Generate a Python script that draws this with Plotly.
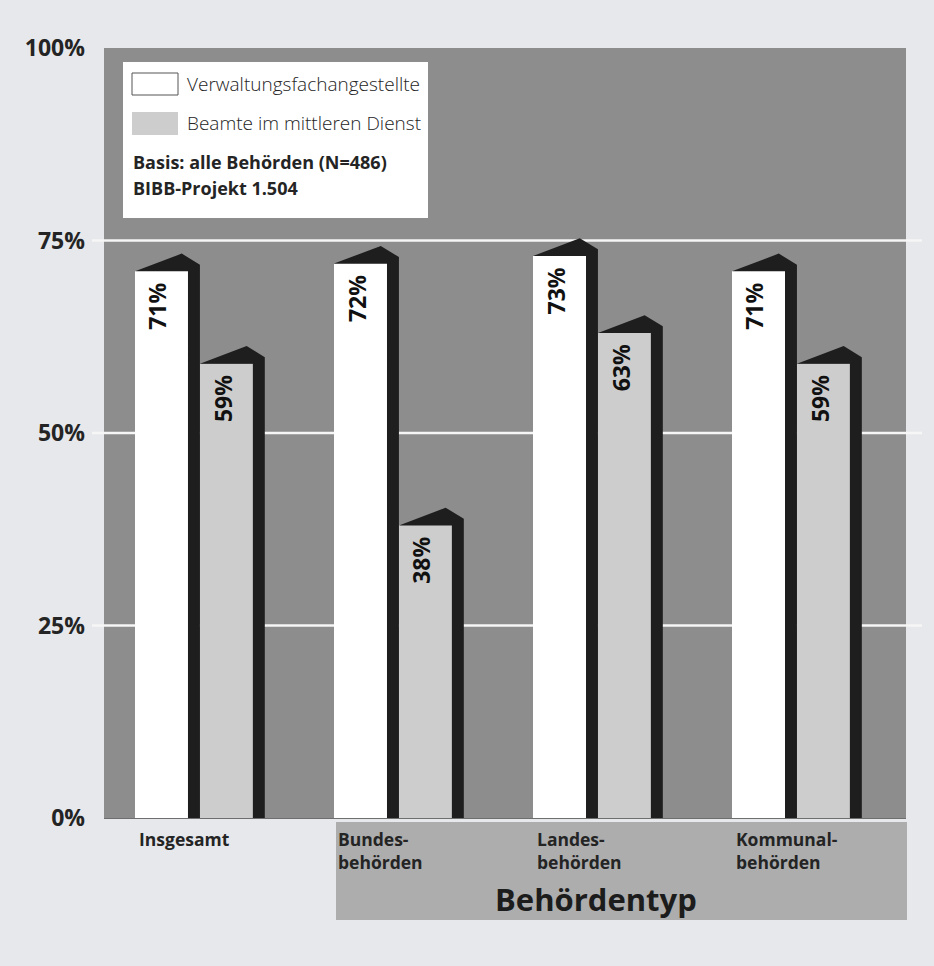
import plotly.graph_objects as go

# ---- data -------------------------------------------------------------
categories = ["Insgesamt", "Bundes-<br>behörden", "Landes-<br>behörden", "Kommunal-<br>behörden"]
verwaltung = [71, 72, 73, 71]          # Verwaltungsfachangestellte
beamte = [59, 38, 63, 59]              # Beamte im mittleren Dienst
series_names = ["Verwaltungsfachangestellte", "Beamte im mittleren Dienst"]
y_ticks = [0, 25, 50, 75, 100]
y_tick_labels = ["0%", "25%", "50%", "75%", "100%"]
grid_values = [25, 50, 75]
note_lines = ["Basis: alle Behörden (N=486)", "BIBB-Projekt 1.504"]
axis_title = "Behördentyp"

# ---- styling ----------------------------------------------------------
W, H = 934, 966
ML, MR, MT, MB = 104, 28, 48, 148
PW, PH = W - ML - MR, H - MT - MB

PAGE_BG = "#e7e8eb"
PLOT_BG = "#8d8d8d"
LIGHT_BAR = "#cdcdcd"
DARK = "#1e1e1e"
TEXT = "#242424"
BAND = "#adadad"
FONT = "Open Sans"

BAR_W = 0.266      # front face width (x units)
SIDE = 0.06        # visible depth of the right side face
ROOF_PEAK = 2.3    # roof ridge above the front top (y units)
ROOF_CORNER = 0.85 # back corner above the front top
PEAK_FRAC = 0.72   # horizontal position of the ridge
X_RANGE = [-0.482, 3.548]

xs = list(range(len(categories)))
offsets = [-(BAR_W + SIDE), 0.0]
fills = ["#ffffff", LIGHT_BAR]
series = [verwaltung, beamte]


def px_x(px):
    return (px - ML) / PW


def px_y(py):
    return (H - MB - py) / PH


fig = go.Figure()

# dark roof + side faces, one polygon per bar
poly_x, poly_y = [], []
for off, vals in zip(offsets, series):
    for x, v in zip(xs, vals):
        x0 = x + off
        xr = x0 + BAR_W
        xe = xr + SIDE
        poly_x += [x0, x0 + PEAK_FRAC * (BAR_W + SIDE), xe, xe, xr, xr, x0, None]
        poly_y += [v, v + ROOF_PEAK, v + ROOF_CORNER, 0, 0, v, v, None]
fig.add_trace(go.Scatter(
    x=poly_x, y=poly_y, mode="lines", fill="toself", fillcolor=DARK,
    line=dict(width=0, color=DARK), hoverinfo="skip", showlegend=False,
))

# front faces
for name, off, vals, col in zip(series_names, offsets, series, fills):
    fig.add_trace(go.Bar(
        x=xs, y=vals, width=BAR_W, offset=off, name=name,
        marker=dict(color=col, line=dict(width=0)), showlegend=False,
    ))

annotations = []
# rotated value labels near the top of each bar
for off, vals in zip(offsets, series):
    for x, v in zip(xs, vals):
        annotations.append(dict(
            x=x + off + BAR_W / 2, y=v, xref="x", yref="y",
            text=f"{v}%", textangle=-90, showarrow=False,
            xanchor="center", yanchor="middle", xshift=-4, yshift=-35,
            font=dict(family=FONT, size=23, color="#111111", weight="bold"),
        ))

# category labels, left-aligned under the white bar
for x, cat in zip(xs, categories):
    annotations.append(dict(
        x=x + offsets[0], y=px_y(825), xref="x", yref="paper",
        text=cat, showarrow=False, xanchor="left", yanchor="top", align="left",
        xshift=2,
        font=dict(family=FONT, size=17.5, color=TEXT, weight="bold"),
    ))

annotations.append(dict(
    x=px_x(596), y=px_y(899), xref="paper", yref="paper", text=axis_title,
    showarrow=False, xanchor="center", yanchor="middle",
    font=dict(family=FONT, size=31, color="#1c1c1c", weight="bold"),
))

# legend texts
annotations.append(dict(
    x=px_x(185), y=px_y(84), xref="paper", yref="paper", text=series_names[0],
    showarrow=False, xanchor="left", yanchor="middle",
    font=dict(family=FONT, size=19, color=TEXT, weight=300),
))
annotations.append(dict(
    x=px_x(185), y=px_y(123), xref="paper", yref="paper", text=series_names[1],
    showarrow=False, xanchor="left", yanchor="middle",
    font=dict(family=FONT, size=19, color=TEXT, weight=300),
))
for i, line in enumerate(note_lines):
    annotations.append(dict(
        x=px_x(131), y=px_y(162 + 26 * i), xref="paper", yref="paper", text=line,
        showarrow=False, xanchor="left", yanchor="middle",
        font=dict(family=FONT, size=18, color=TEXT, weight="bold"),
    ))

shapes = []
# white grid lines, reaching slightly past the plot area
for g in grid_values:
    shapes.append(dict(
        type="line", xref="paper", yref="y", x0=px_x(92), x1=px_x(922), y0=g, y1=g,
        line=dict(color="#f6f6f6", width=2.5), layer="below",
    ))
# band behind the grouped categories
shapes.append(dict(
    type="rect", xref="paper", yref="paper",
    x0=px_x(336), x1=px_x(907), y0=px_y(822), y1=px_y(920),
    fillcolor=BAND, line=dict(width=0), layer="below",
))
# legend box and swatches
shapes.append(dict(
    type="rect", xref="paper", yref="paper",
    x0=px_x(123), x1=px_x(428), y0=px_y(62), y1=px_y(218),
    fillcolor="#ffffff", line=dict(width=0), layer="above",
))
shapes.append(dict(
    type="rect", xref="paper", yref="paper",
    x0=px_x(132), x1=px_x(178), y0=px_y(73), y1=px_y(95),
    fillcolor="#ffffff", line=dict(width=1, color="#555555"), layer="above",
))
shapes.append(dict(
    type="rect", xref="paper", yref="paper",
    x0=px_x(132), x1=px_x(178), y0=px_y(112), y1=px_y(135),
    fillcolor=LIGHT_BAR, line=dict(width=0), layer="above",
))

fig.update_layout(
    width=W, height=H, autosize=False,
    margin=dict(l=ML, r=MR, t=MT, b=MB, pad=0),
    paper_bgcolor=PAGE_BG, plot_bgcolor=PLOT_BG,
    barmode="overlay", bargap=0,
    showlegend=False,
    xaxis=dict(range=X_RANGE, showticklabels=False, showgrid=False, zeroline=False,
               showline=True, linecolor="#6e6e6e", linewidth=1, fixedrange=True),
    yaxis=dict(range=[0, 100], tickvals=y_ticks, ticktext=y_tick_labels,
               showgrid=False, zeroline=False, showline=False, ticks="",
               ticklabelstandoff=18,
               tickfont=dict(family=FONT, size=23, color=TEXT, weight="bold"),
               fixedrange=True),
    annotations=annotations,
    shapes=shapes,
)

fig.write_html("out.html")
